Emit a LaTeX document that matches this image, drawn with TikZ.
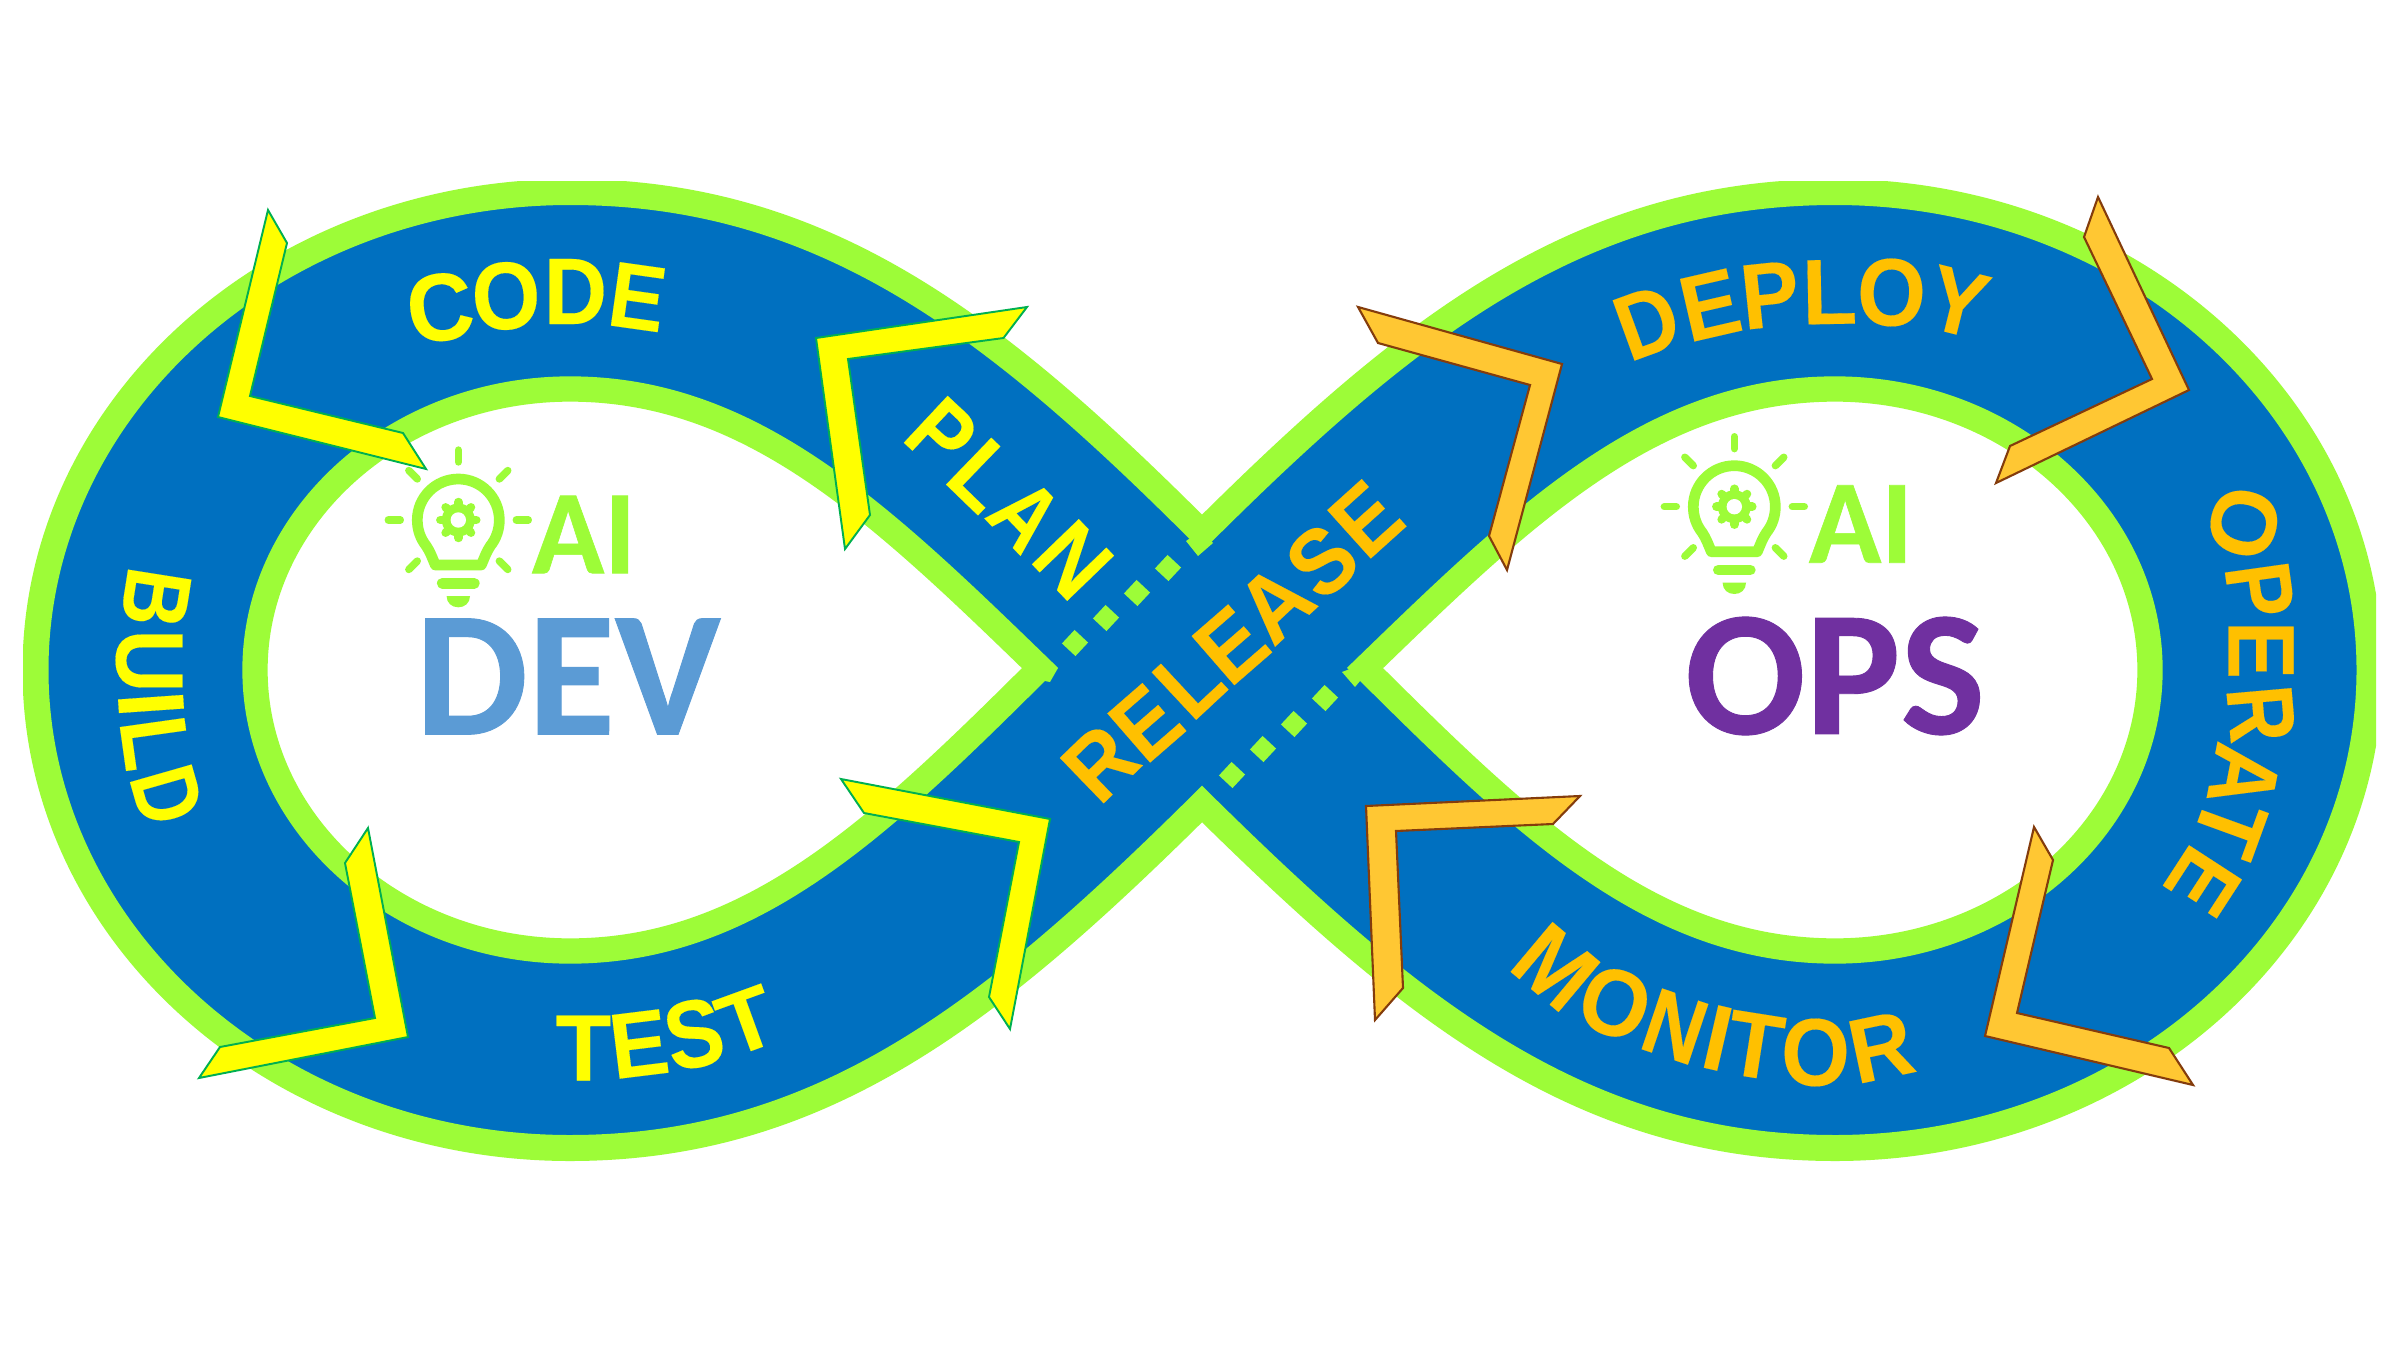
\documentclass[tikz,border=0pt]{standalone}
\usepackage{graphicx}
\usepackage{fontspec}
\setmainfont{Liberation Sans}[BoldFeatures={FakeBold=0.15}]
\newfontfamily\carlitofont{Carlito}[BoldFeatures={FakeBold=0.5}]
\definecolor{lime}{HTML}{9DFC38}
\definecolor{bandblue}{HTML}{0070C0}
\definecolor{yel}{HTML}{FFFF00}
\definecolor{gold}{HTML}{FFC000}
\definecolor{orangefill}{HTML}{FFC733}
\definecolor{brownline}{HTML}{843C0C}
\definecolor{greenline}{HTML}{00B050}
\definecolor{devblue}{HTML}{5B9BD5}
\definecolor{opspurple}{HTML}{7030A0}
\newcommand\setink[2]{\expandafter\def\csname ink#1\endcsname{#2}}
\setink{A}{1.0}\setink{B}{1.16}\setink{C}{1.11}\setink{D}{1.15}\setink{E}{1.19}
\setink{I}{2.0}\setink{L}{1.17}\setink{M}{1.2}\setink{N}{1.22}\setink{O}{1.11}
\setink{P}{1.17}\setink{R}{1.09}\setink{S}{1.11}\setink{T}{1.07}\setink{U}{1.22}\setink{Y}{1.0}
\newcommand\ltr[8]{%
  \pgfmathsetlengthmacro\ww{#5*0.2845*\csname ink#7\endcsname}%
  \pgfmathsetlengthmacro\hh{#6*0.2845}%
  \node[lett,text=#8,rotate=#4] (#1) at (#2,#3) {\resizebox{\ww}{\hh}{#7}};}
\newcommand\bulbicon[2]{%
  \begin{scope}[shift={(#1,#2)}]
    \draw[iconline,line width=3.05pt]
      (-23,45) -- (23,45) .. controls (26,38) and (28,32) .. (32,26)
      .. controls (38,18.5) and (41,9.5) .. (41,0)
      .. controls (41,-22.6) and (22.6,-41) .. (0,-41)
      .. controls (-22.6,-41) and (-41,-22.6) .. (-41,0)
      .. controls (-41,9.5) and (-38,18.5) .. (-32,26)
      .. controls (-28,32) and (-26,38) .. (-23,45) -- cycle;
    \foreach \a in {0,45,135,180,225,270,315}{
      \draw[iconline,line width=2.1pt] ({58*cos(\a)},{58*sin(\a)}) -- ({70*cos(\a)},{70*sin(\a)});
    }
    \foreach \a in {0,45,...,315}{
      \draw[iconline,line width=2.4pt] ({15*cos(\a)},{15*sin(\a)}) -- ({18*cos(\a)},{18*sin(\a)});
    }
    \fill[lime] (0,0) circle (16.5);
    \fill[white] (0,0) circle (7.7);
    \draw[iconline,line width=3.05pt] (-16,63.3) -- (16,63.3);
    \fill[lime] (-11.7,76) -- (11.7,76) .. controls (11.7,83) and (6.5,87.3) .. (0,87.3)
      .. controls (-6.5,87.3) and (-11.7,83) .. (-11.7,76) -- cycle;
  \end{scope}}
\tikzset{
  band/.style={fill=bandblue,draw=lime,line width=7.4pt,miter limit=10},
  hole/.style={fill=white,draw=lime,line width=7.2pt,miter limit=10},
  yarrow/.style={fill=yel,draw=greenline,line width=.55pt},
  oarrow/.style={fill=orangefill,draw=brownline,line width=.6pt},
  lett/.style={inner sep=0pt,outer sep=0pt,font=\bfseries},
  bigword/.style={inner sep=0pt,outer sep=0pt,font=\carlitofont\bfseries\fontsize{50.8}{50.8}\selectfont},
  aiword/.style={inner sep=0pt,outer sep=0pt,text=lime,font=\carlitofont\bfseries\fontsize{34}{34}\selectfont},
  dotsq/.style={fill=lime,inner sep=0pt,minimum size=1.85mm,rotate=-43},
  iconline/.style={draw=lime,line cap=round,line join=round},
}
\begin{document}
\begin{tikzpicture}[x=0.1mm,y=-0.1mm]
\useasboundingbox (0,0) rectangle (2400,1350);
\fill[white] (0,0) rectangle (2400,1350);
% outer infinity band
\begin{scope}
\clip (23,182) rectangle (2376,1175);
\path[band] (570,192) .. controls (275,192) and (35.5,406) .. (35.5,670)
  .. controls (35.5,934) and (275,1148) .. (570,1148)
  .. controls (825,1148) and (996,1008) .. (1202,804)
  .. controls (1409,1008) and (1580,1148) .. (1835,1148)
  .. controls (2130,1148) and (2369.5,934) .. (2369.5,670)
  .. controls (2369.5,406) and (2130,192) .. (1835,192)
  .. controls (1580,192) and (1409,327) .. (1202,533)
  .. controls (996,327) and (825,192) .. (570,192) -- cycle;
\end{scope}
% holes
\path[hole] (570,389) .. controls (752,389) and (881,514) .. (1040,668)
  .. controls (881,826) and (752,951) .. (570,951)
  .. controls (397,951) and (255,825) .. (255,670)
  .. controls (255,515) and (397,389) .. (570,389) -- cycle;
\path[hole] (1835,389) .. controls (1653,389) and (1524,514) .. (1365,668)
  .. controls (1524,826) and (1653,951) .. (1835,951)
  .. controls (2008,951) and (2150,825) .. (2150,670)
  .. controls (2150,515) and (2008,389) .. (1835,389) -- cycle;
% small cut tips
\fill[lime] (1186,541) -- (1198,556) -- (1213,543) -- (1202,530) -- cycle;
\fill[lime] (1058,668) -- (1050,682) -- (1040,680) -- (1040,668) -- cycle;
\fill[lime] (1342,672) -- (1355,687) -- (1365,675) -- (1360,665) -- cycle;
% dotted squares
\node[dotsq] (d1) at (1168,568) {};
\node[dotsq] (d2) at (1137,593) {};
\node[dotsq] (d3) at (1106,618) {};
\node[dotsq] (d4) at (1075,643) {};
\node[dotsq] (d5) at (1325,698) {};
\node[dotsq] (d6) at (1294,724) {};
\node[dotsq] (d7) at (1263,749) {};
\node[dotsq] (d8) at (1232,775) {};
% block arrows
\draw[yarrow] (268,210) -- (287,243) -- (250,396) -- (403,433) -- (426,469) -- (218,417) -- cycle;
\draw[yarrow] (1027,307) -- (1003.5,338) -- (848,359) -- (870,515) -- (845,549) -- (816,338) -- cycle;
\draw[yarrow] (368,828) -- (345,863) -- (375,1018) -- (220,1047) -- (199,1078) -- (408,1037) -- cycle;
\draw[yarrow] (841,779) -- (864,813) -- (1019,842) -- (989,997) -- (1010,1029) -- (1050,819) -- cycle;
\draw[oarrow] (1358,307) -- (1378,343) -- (1530,385) -- (1489,536) -- (1507,570) -- (1562,364) -- cycle;
\draw[oarrow] (2098,197) -- (2084,237) -- (2152,379) -- (2010,446) -- (1996,483) -- (2189,390) -- cycle;
\draw[oarrow] (1580,796) -- (1553,824) -- (1396,831) -- (1403,988) -- (1375,1020) -- (1366,806) -- cycle;
\draw[oarrow] (2034,827) -- (2053,860) -- (2017,1013) -- (2169,1048) -- (2193,1085) -- (1985,1036) -- cycle;
% icons
\bulbicon{458.3}{520}
\bulbicon{1734.3}{506.7}
% centre words
\node[aiword] (aiL) at (584,534.5) {AI};
\node[aiword] (aiR) at (1861,524) {AI};
\node[bigword,text=devblue] (dev) at (568,676.5) {DEV};
\node[bigword,text=opspurple] (ops) at (1835,676) {OPS};
% CODE
\ltr{c1}{440}{307.5}{8}{60}{67}{C}{yel}
\ltr{c2}{506}{296}{3}{62}{67}{O}{yel}
\ltr{c3}{575.5}{291.5}{0}{55}{65}{D}{yel}
\ltr{c4}{637.6}{297}{-8}{47}{64}{E}{yel}
% PLAN
\ltr{p1}{941.5}{434}{-43}{46}{64}{P}{yel}
\ltr{p2}{983.5}{475.5}{-44}{45}{65}{L}{yel}
\ltr{p3}{1025.5}{515}{-46}{56}{64}{A}{yel}
\ltr{p4}{1073}{560}{-46}{51}{65}{N}{yel}
% BUILD
\ltr{b1}{156}{598}{-99}{50}{64}{B}{yel}
\ltr{b2}{149}{661}{-90}{52}{66}{U}{yel}
\ltr{b3}{151}{704}{-86}{13}{65}{I}{yel}
\ltr{b4}{155}{743}{-82}{45}{65}{L}{yel}
\ltr{b5}{167}{795}{-74}{48}{64}{D}{yel}
% TEST
\ltr{t1}{583.5}{1048}{0}{52}{65}{T}{yel}
\ltr{t2}{639}{1044}{7}{49}{64}{E}{yel}
\ltr{t3}{694}{1034}{12}{52}{67}{S}{yel}
\ltr{t4}{746.6}{1020.7}{20}{51}{60}{T}{yel}
% RELEASE
\ltr{r1}{1100}{763}{44}{57}{63}{R}{gold}
\ltr{r2}{1146}{723}{41}{48}{65}{E}{gold}
\ltr{r3}{1189}{682}{43}{45}{65}{L}{gold}
\ltr{r4}{1231}{645}{41}{50}{65}{E}{gold}
\ltr{r5}{1275}{603}{43}{64}{64}{A}{gold}
\ltr{r6}{1322}{561}{42}{52}{65}{S}{gold}
\ltr{r7}{1366}{519}{42}{48}{65}{E}{gold}
% DEPLOY
\ltr{e1}{1647}{322}{20}{53}{64}{D}{gold}
\ltr{e2}{1710}{305}{13}{49}{64}{E}{gold}
\ltr{e3}{1770}{295}{6}{50}{64}{P}{gold}
\ltr{e4}{1829.5}{292}{1}{47}{64}{L}{gold}
\ltr{e5}{1891.5}{292.5}{-2}{62}{67}{O}{gold}
\ltr{e6}{1958}{302}{-14}{58}{64}{Y}{gold}
% OPERATE
\ltr{o1}{2243.7}{523}{-105}{64}{65}{O}{gold}
\ltr{o2}{2259.7}{590}{-82}{47}{64}{P}{gold}
\ltr{o3}{2261}{650}{-90}{49}{65}{E}{gold}
\ltr{o4}{2261}{714}{-85}{52}{65}{R}{gold}
\ltr{o5}{2244}{776}{-101}{62}{65}{A}{gold}
\ltr{o6}{2229.7}{827}{-110}{51}{64}{T}{gold}
\ltr{o7}{2203}{881.6}{-123}{48}{63}{E}{gold}
% MONITOR
\ltr{m1}{1555.5}{967}{-40}{62}{65}{M}{gold}
\ltr{m2}{1615}{1003}{-20}{62}{66}{O}{gold}
\ltr{m3}{1675}{1026.6}{-18.6}{49}{64}{N}{gold}
\ltr{m4}{1717.7}{1038}{-13}{13}{64}{I}{gold}
\ltr{m5}{1755}{1045.5}{-9}{52}{64}{T}{gold}
\ltr{m6}{1815.5}{1052.5}{-2}{62}{67}{O}{gold}
\ltr{m7}{1881}{1047}{12}{58}{63}{R}{gold}
\end{tikzpicture}
\end{document}
